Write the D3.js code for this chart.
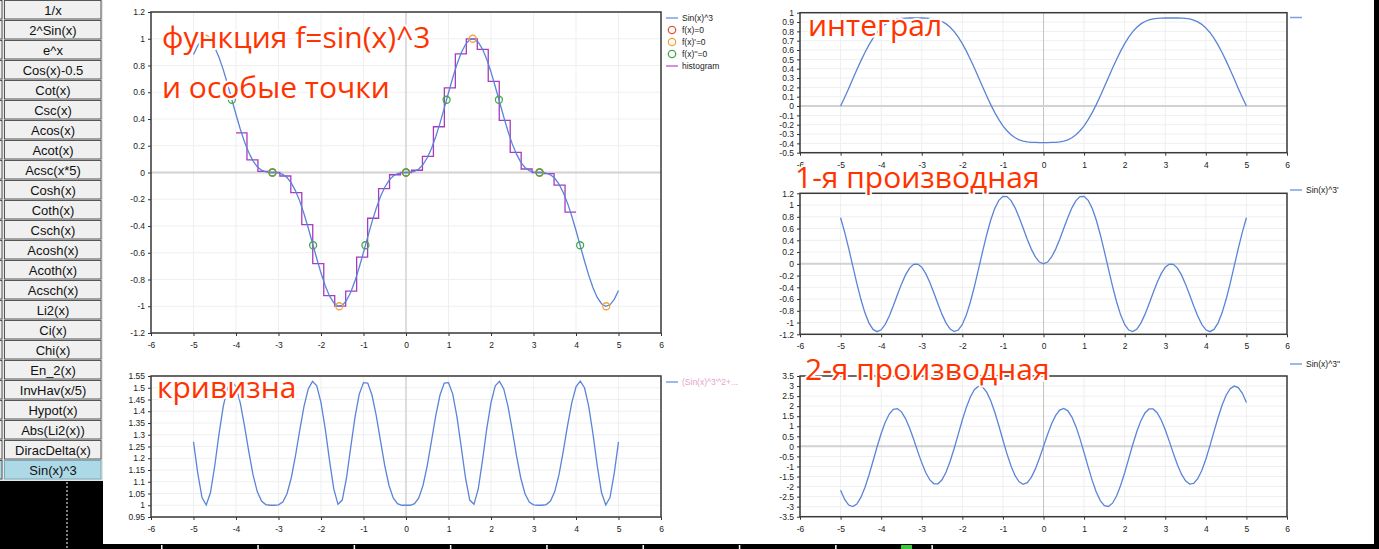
<!DOCTYPE html>
<html>
<head>
<meta charset="utf-8">
<script src="https://cdnjs.cloudflare.com/ajax/libs/d3/7.8.5/d3.min.js"></script>
<style>
body { margin: 0; background: #000; overflow: hidden; }
text { font-family: "Liberation Sans", Arial, sans-serif; }
.title { font-family: "Open Sans", "Noto Sans", sans-serif; font-size: 30px; fill: #ff3300;
         stroke: #fff; stroke-width: 4px; paint-order: stroke; stroke-linejoin: round; }
</style>
</head>
<body>
<svg id="root" width="1379" height="549"></svg>
<script>

// menu of functions on the left
var buttonLabels = ["1/x", "2^Sin(x)", "e^x", "Cos(x)-0.5", "Cot(x)", "Csc(x)", "Acos(x)", "Acot(x)",
    "Acsc(x*5)", "Cosh(x)", "Coth(x)", "Csch(x)", "Acosh(x)", "Acoth(x)", "Acsch(x)", "Li2(x)",
    "Ci(x)", "Chi(x)", "En_2(x)", "InvHav(x/5)", "Hypot(x)", "Abs(Li2(x))", "DiracDelta(x)", "Sin(x)^3"];
var activeButton = "Sin(x)^3";

// sample points
var xValues = [-5.0,-4.9,-4.8,-4.7,-4.6,-4.5,-4.4,-4.3,-4.2,-4.1,-4.0,-3.9,-3.8,-3.7,-3.6,-3.5,-3.4,-3.3,-3.2,-3.1,
    -3.0,-2.9,-2.8,-2.7,-2.6,-2.5,-2.4,-2.3,-2.2,-2.1,-2.0,-1.9,-1.8,-1.7,-1.6,-1.5,-1.4,-1.3,-1.2,-1.1,
    -1.0,-0.9,-0.8,-0.7,-0.6,-0.5,-0.4,-0.3,-0.2,-0.1,0,0.1,0.2,0.3,0.4,0.5,0.6,0.7,0.8,0.9,
    1.0,1.1,1.2,1.3,1.4,1.5,1.6,1.7,1.8,1.9,2.0,2.1,2.2,2.3,2.4,2.5,2.6,2.7,2.8,2.9,
    3.0,3.1,3.2,3.3,3.4,3.5,3.6,3.7,3.8,3.9,4.0,4.1,4.2,4.3,4.4,4.5,4.6,4.7,4.8,4.9,5.0];

var sinCubed = [0.882,0.948,0.989,1.000,0.981,0.934,0.862,0.769,0.662,0.548,0.434,0.325,0.229,0.149,0.087,0.043,0.017,0.004,0,0,
    -0.003,-0.014,-0.038,-0.078,-0.137,-0.214,-0.308,-0.415,-0.529,-0.643,-0.752,-0.847,-0.923,-0.975,-0.999,-0.993,-0.957,-0.895,-0.810,-0.708,
    -0.596,-0.481,-0.369,-0.267,-0.180,-0.110,-0.059,-0.026,-0.008,-0.001,0,0.001,0.008,0.026,0.059,0.110,0.180,0.267,0.369,0.481,
    0.596,0.708,0.810,0.895,0.957,0.993,0.999,0.975,0.923,0.847,0.752,0.643,0.529,0.415,0.308,0.214,0.137,0.078,0.038,0.014,
    0.003,0,0,-0.004,-0.017,-0.043,-0.087,-0.149,-0.229,-0.325,-0.434,-0.548,-0.662,-0.769,-0.862,-0.934,-0.981,-1.000,-0.989,-0.948,-0.882];

var integralValues = [0.000,0.092,0.189,0.289,0.388,0.484,0.574,0.655,0.727,0.788,0.837,0.875,0.902,0.921,0.933,0.939,0.942,0.943,0.943,0.943,
    0.943,0.942,0.940,0.934,0.923,0.906,0.880,0.844,0.797,0.738,0.668,0.588,0.499,0.404,0.305,0.206,0.108,0.015,-0.070,-0.146,
    -0.212,-0.265,-0.308,-0.340,-0.362,-0.376,-0.385,-0.389,-0.390,-0.391,-0.391,-0.391,-0.390,-0.389,-0.385,-0.376,-0.362,-0.340,-0.308,-0.265,
    -0.212,-0.146,-0.070,0.015,0.108,0.206,0.305,0.404,0.499,0.588,0.668,0.738,0.797,0.844,0.880,0.906,0.923,0.934,0.940,0.942,
    0.943,0.943,0.943,0.943,0.942,0.939,0.933,0.921,0.902,0.875,0.837,0.788,0.727,0.655,0.574,0.484,0.388,0.289,0.189,0.092,0.000];

var firstDeriv = [0.783,0.540,0.261,-0.037,-0.332,-0.604,-0.835,-1.009,-1.117,-1.155,-1.123,-1.030,-0.889,-0.714,-0.527,-0.346,-0.189,-0.074,-0.010,-0.005,
    -0.059,-0.167,-0.317,-0.496,-0.683,-0.861,-1.009,-1.112,-1.154,-1.128,-1.032,-0.869,-0.646,-0.380,-0.088,0.211,0.495,0.745,0.944,1.081,
    1.148,1.144,1.076,0.952,0.789,0.605,0.419,0.250,0.116,0.030,0,0.030,0.116,0.250,0.419,0.605,0.789,0.952,1.076,1.144,
    1.148,1.081,0.944,0.745,0.495,0.211,-0.088,-0.380,-0.646,-0.869,-1.032,-1.128,-1.154,-1.112,-1.009,-0.861,-0.683,-0.496,-0.317,-0.167,
    -0.059,-0.005,-0.010,-0.074,-0.189,-0.346,-0.527,-0.714,-0.889,-1.030,-1.123,-1.155,-1.117,-1.009,-0.835,-0.604,-0.332,-0.037,0.261,0.540,0.783];

var secondDeriv = [-2.182,-2.641,-2.921,-2.998,-2.868,-2.541,-2.046,-1.424,-0.730,-0.022,0.639,1.198,1.610,1.840,1.875,1.716,1.383,0.911,0.349,-0.249,
    -0.821,-1.312,-1.672,-1.862,-1.860,-1.662,-1.279,-0.742,-0.094,0.609,1.311,1.949,2.468,2.828,2.992,2.948,2.699,2.271,1.694,1.023,
    0.314,-0.374,-0.981,-1.459,-1.768,-1.885,-1.805,-1.541,-1.122,-0.590,0,0.590,1.122,1.541,1.805,1.885,1.768,1.459,0.981,0.374,
    -0.314,-1.023,-1.694,-2.271,-2.699,-2.948,-2.992,-2.828,-2.468,-1.949,-1.311,-0.609,0.094,0.742,1.279,1.662,1.860,1.862,1.672,1.312,
    0.821,0.249,-0.349,-0.911,-1.383,-1.716,-1.875,-1.840,-1.610,-1.198,-0.639,0.022,0.730,1.424,2.046,2.541,2.868,2.998,2.921,2.641,2.182];

var curvature = [1.270,1.137,1.033,1.001,1.054,1.168,1.303,1.421,1.500,1.528,1.504,1.436,1.338,1.229,1.130,1.058,1.018,1.003,1.000,1.000,
    1.002,1.014,1.049,1.116,1.211,1.320,1.421,1.495,1.527,1.508,1.437,1.325,1.191,1.070,1.004,1.022,1.116,1.247,1.375,1.473,
    1.522,1.520,1.469,1.381,1.274,1.169,1.084,1.031,1.007,1.000,1.000,1.000,1.007,1.031,1.084,1.169,1.274,1.381,1.469,1.520,
    1.522,1.473,1.375,1.247,1.116,1.022,1.004,1.070,1.191,1.325,1.437,1.508,1.527,1.495,1.421,1.320,1.211,1.116,1.049,1.014,
    1.002,1.000,1.000,1.003,1.018,1.058,1.130,1.229,1.338,1.436,1.504,1.528,1.500,1.421,1.303,1.168,1.054,1.001,1.033,1.137,1.270];

// step histogram over [-4, 4]
var histEdges = [-4.000,-3.742,-3.484,-3.226,-2.968,-2.710,-2.452,-2.194,-1.935,-1.677,-1.419,-1.161,-0.903,-0.645,-0.387,-0.129,
    0.129,0.387,0.645,0.903,1.161,1.419,1.677,1.935,2.194,2.452,2.710,2.968,3.226,3.484,3.742,4.000];
var histLevels = [0.296,0.094,0.009,0.000,-0.026,-0.150,-0.390,-0.682,-0.920,-0.999,-0.887,-0.633,-0.342,-0.120,-0.017,0.000,
    0.017,0.120,0.342,0.633,0.887,0.999,0.920,0.682,0.390,0.150,0.026,0.000,-0.009,-0.094,-0.296];

// special points
var zeroX = [-3.142, 0, 3.142];
var zeroY = [0, 0, 0];
var extremaX = [-4.712, -3.142, -1.571, 0, 1.571, 3.142, 4.712];
var extremaY = [1, 0, -1, 0, 1, 0, -1];
var inflectX = [-4.097, -3.142, -2.186, -0.955, 0, 0.955, 2.186, 3.142, 4.097];
var inflectY = [0.544, 0, -0.544, -0.544, 0, 0.544, 0.544, 0, -0.544];

var lineColor = "#5a84d8";
var svg = d3.select("#root");

// window pieces
svg.append("rect").attr("x", 0).attr("y", 0).attr("width", 1379).attr("height", 549).attr("fill", "#000");
svg.append("rect").attr("x", 103).attr("y", 0).attr("width", 1271).attr("height", 544).attr("fill", "#fff");
svg.append("rect").attr("x", 0).attr("y", 0).attr("width", 103).attr("height", 481).attr("fill", "#e6e6e6");

var btn = svg.selectAll(".btn").data(buttonLabels).enter().append("g")
    .attr("transform", function(d, i) { return "translate(0," + (i * 20) + ")"; });
btn.append("rect").attr("x", -4).attr("y", 0.5).attr("width", 6).attr("height", 18.5)
    .attr("fill", function(d) { return d === activeButton ? "#add8e6" : "#f0f0f0"; }).attr("stroke", "#555");
btn.append("rect").attr("x", 4.5).attr("y", 0.5).attr("width", 96.5).attr("height", 18.5)
    .attr("fill", function(d) { return d === activeButton ? "#add8e6" : "#f0f0f0"; })
    .attr("stroke", function(d) { return d === activeButton ? "#7aaab8" : "#555"; });
btn.append("text").attr("x", 53).attr("y", 14.5).attr("text-anchor", "middle")
    .attr("font-size", "13px").attr("fill", "#111").text(function(d) { return d; });

svg.append("line").attr("x1", 67).attr("x2", 67).attr("y1", 482).attr("y2", 549)
    .attr("stroke", "#fff").attr("stroke-dasharray", "2,2");
svg.selectAll(".bt").data(d3.range(9)).enter().append("rect")
    .attr("x", function(d) { return 161 + d * 96.3; }).attr("y", 545).attr("width", 1.5).attr("height", 4)
    .attr("fill", "#fff");
svg.append("rect").attr("x", 901).attr("y", 545).attr("width", 11).attr("height", 4).attr("fill", "#3c3");

function fmt(d) { return String(+d.toFixed(2)); }

function makePanel(box) {
    var x = d3.scaleLinear().domain([-6, 6]).range([box.left, box.right]);
    var y = d3.scaleLinear().domain(box.yDomain).range([box.bottom, box.top]);
    var g = svg.append("g");

    // grid
    g.selectAll(".vg").data(x.ticks(12)).enter().append("line")
        .attr("x1", x).attr("x2", x).attr("y1", box.top).attr("y2", box.bottom)
        .attr("stroke", "#efefef");
    g.selectAll(".hg").data(y.ticks(box.yTicks)).enter().append("line")
        .attr("x1", box.left).attr("x2", box.right).attr("y1", y).attr("y2", y)
        .attr("stroke", "#efefef");

    // zero lines
    g.append("line").attr("x1", x(0)).attr("x2", x(0)).attr("y1", box.top).attr("y2", box.bottom)
        .attr("stroke", "#c4c4c4");
    g.append("line").attr("x1", box.left).attr("x2", box.right).attr("y1", y(0)).attr("y2", y(0))
        .attr("stroke", "#d2d2d2").attr("stroke-width", 2);

    var ax = g.append("g").attr("transform", "translate(0," + box.bottom + ")")
        .call(d3.axisBottom(x).ticks(12).tickSize(3).tickSizeOuter(0).tickPadding(6).tickFormat(fmt));
    var ay = g.append("g").attr("transform", "translate(" + box.left + ",0)")
        .call(d3.axisLeft(y).ticks(box.yTicks).tickSize(3).tickSizeOuter(0).tickPadding(3).tickFormat(fmt));
    [ax, ay].forEach(function(a) {
        a.select(".domain").remove();
        a.selectAll("line").attr("stroke", "#333");
        a.selectAll("text").attr("font-size", "8.5px").attr("fill", "#222")
            .attr("font-family", "'Liberation Sans', Arial, sans-serif");
    });

    g.append("rect").attr("x", box.left).attr("y", box.top)
        .attr("width", box.right - box.left).attr("height", box.bottom - box.top)
        .attr("fill", "none").attr("stroke", "#3a3a3a").attr("stroke-width", 1.5);

    return { x: x, y: y, g: g, box: box };
}

function addLine(p, xs, ys, color, width, curve) {
    var line = d3.line()
        .x(function(d) { return p.x(d[0]); })
        .y(function(d) { return p.y(d[1]); })
        .curve(curve || d3.curveLinear);
    p.g.append("path").datum(d3.zip(xs, ys)).attr("d", line)
        .attr("fill", "none").attr("stroke", color).attr("stroke-width", width);
}

function addPoints(p, xs, ys, color) {
    p.g.selectAll(null).data(d3.zip(xs, ys)).enter().append("circle")
        .attr("cx", function(d) { return p.x(d[0]); })
        .attr("cy", function(d) { return p.y(d[1]); })
        .attr("r", 3.5).attr("fill", "none").attr("stroke", color).attr("stroke-width", 1.3);
}

function addLegend(lx, ly, items) {
    items.forEach(function(it, i) {
        var yy = ly + i * 12;
        if (it.circle) {
            svg.append("circle").attr("cx", lx + 6).attr("cy", yy).attr("r", 3.7)
                .attr("fill", "none").attr("stroke", it.color).attr("stroke-width", 1.3);
        } else {
            svg.append("line").attr("x1", lx).attr("x2", lx + 12).attr("y1", yy).attr("y2", yy)
                .attr("stroke", it.color).attr("stroke-width", 1.5);
        }
        if (it.label) {
            svg.append("text").attr("x", lx + 16).attr("y", yy + 3).attr("font-size", "8.5px")
                .attr("fill", it.textColor || "#222").text(it.label);
        }
    });
}

// main chart
var main = makePanel({ left: 151, right: 661, top: 12, bottom: 333, yDomain: [-1.2, 1.2], yTicks: 12 });
var histPts = histEdges.map(function(e, i) { return histLevels[Math.min(i, histLevels.length - 1)]; });
addLine(main, histEdges, histPts, "#a63cbf", 1.3, d3.curveStepAfter);
addLine(main, xValues, sinCubed, lineColor, 1.3);
addPoints(main, zeroX, zeroY, "#e2553f");
addPoints(main, extremaX, extremaY, "#f2a43a");
addPoints(main, inflectX, inflectY, "#45a84b");
addLegend(666, 18, [
    { color: "#7d9fe0", label: "Sin(x)^3" },
    { color: "#e2553f", label: "f(x)=0", circle: true },
    { color: "#f2a43a", label: "f(x)'=0", circle: true },
    { color: "#45a84b", label: "f(x)''=0", circle: true },
    { color: "#c46ccf", label: "histogram" }
]);

// curvature
var curv = makePanel({ left: 151, right: 661, top: 376, bottom: 517, yDomain: [0.95, 1.55], yTicks: 12 });
addLine(curv, xValues, curvature, lineColor, 1.3);
addLegend(666, 382, [{ color: "#7d9fe0", label: "(Sin(x)^3'^2+...", textColor: "#e6a3c8" }]);

// integral
var integ = makePanel({ left: 800, right: 1287, top: 12.7, bottom: 152.7, yDomain: [-0.5, 1], yTicks: 15 });
addLine(integ, xValues, integralValues, lineColor, 1.3);
addLegend(1290, 17.5, [{ color: "#7d9fe0", label: "" }]);

// first derivative
var d1 = makePanel({ left: 800, right: 1287, top: 193.3, bottom: 334.3, yDomain: [-1.2, 1.2], yTicks: 12 });
addLine(d1, xValues, firstDeriv, lineColor, 1.3);
addLegend(1290, 190, [{ color: "#7d9fe0", label: "Sin(x)^3'" }]);

// second derivative
var d2 = makePanel({ left: 800, right: 1287, top: 376, bottom: 516.7, yDomain: [-3.5, 3.5], yTicks: 14 });
addLine(d2, xValues, secondDeriv, lineColor, 1.3);
addLegend(1290, 364, [{ color: "#7d9fe0", label: "Sin(x)^3''" }]);

// captions on top
var titles = [
    { text: "функция f=sin(x)^3", x: 162, y: 48 },
    { text: "и особые точки", x: 162, y: 98 },
    { text: "интеграл", x: 808, y: 36 },
    { text: "1-я производная", x: 795, y: 188 },
    { text: "2-я производная", x: 805, y: 380 },
    { text: "кривизна", x: 157, y: 398 }
];
svg.selectAll(".title").data(titles).enter().append("text").attr("class", "title")
    .attr("x", function(d) { return d.x; }).attr("y", function(d) { return d.y; })
    .text(function(d) { return d.text; });

</script>
</body>
</html>
